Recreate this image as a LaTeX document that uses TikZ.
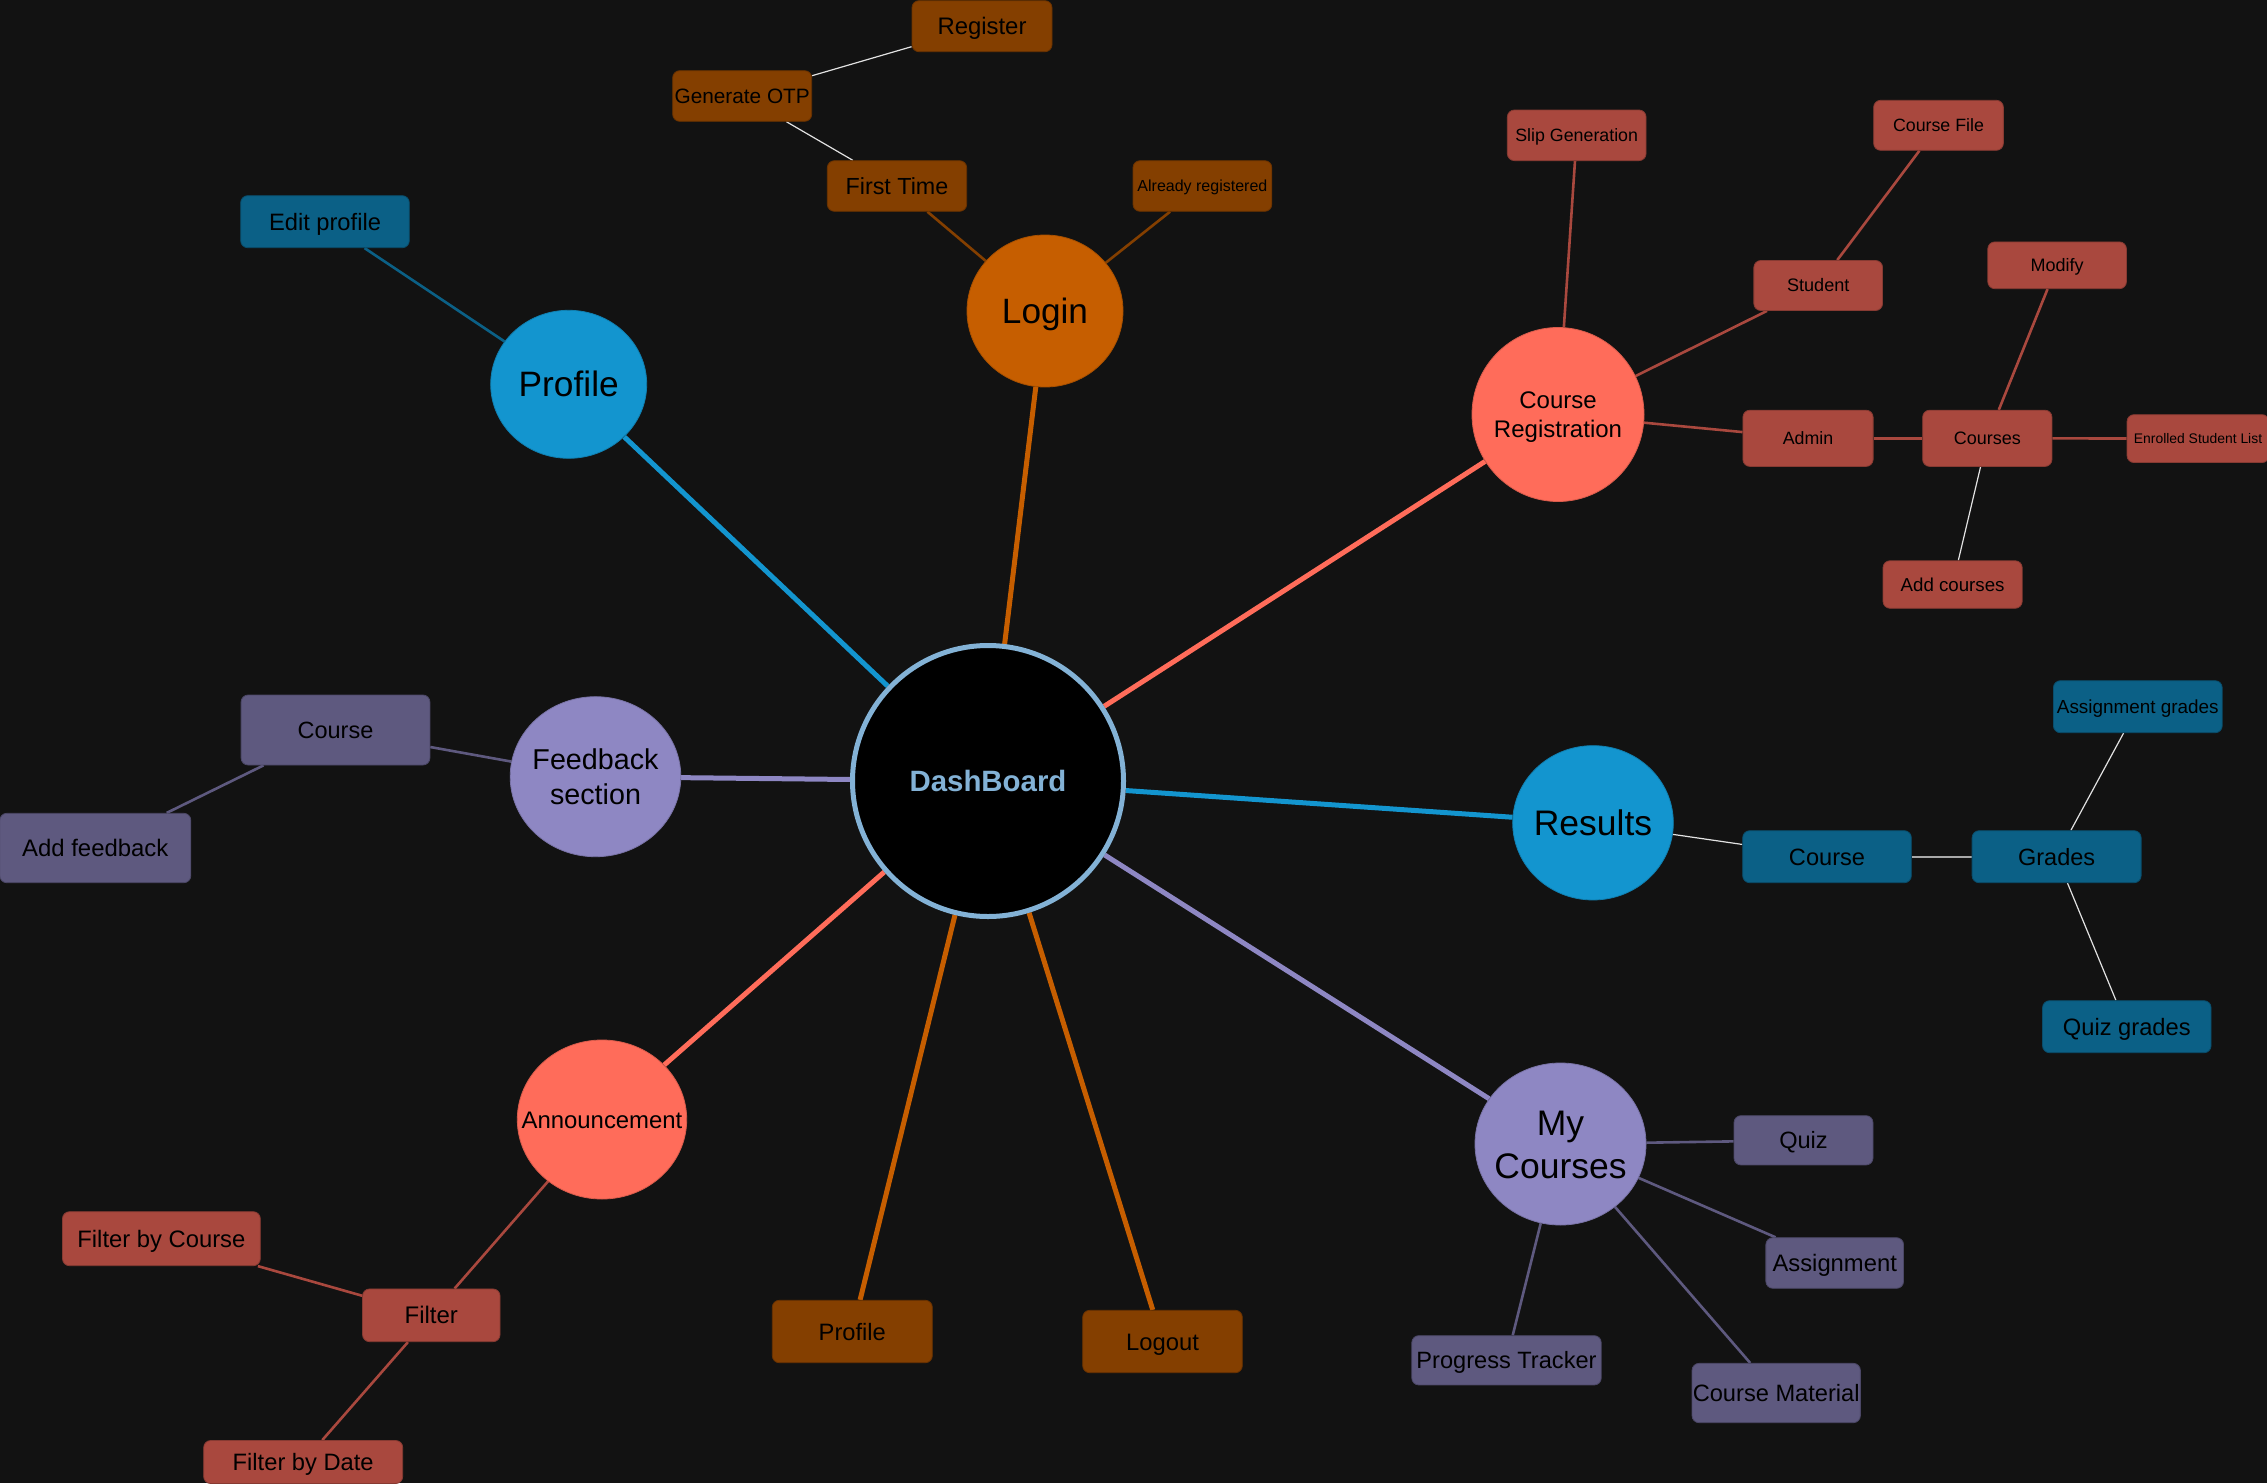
\documentclass[tikz,border=0pt]{standalone}
\usepackage{fontspec}
\setmainfont{Liberation Sans}
\usetikzlibrary{shapes.geometric}
\pgfdeclarelayer{background}
\pgfsetlayers{background,main}

\definecolor{bg}{HTML}{121212}
\definecolor{orgC}{HTML}{C65E00}
\definecolor{orgB}{HTML}{843F00}
\definecolor{redC}{HTML}{FF6C5A}
\definecolor{redB}{HTML}{A9483E}
\definecolor{bluC}{HTML}{1395CF}
\definecolor{bluB}{HTML}{0B6086}
\definecolor{purC}{HTML}{8E87C3}
\definecolor{purB}{HTML}{5E597F}
\definecolor{dashC}{HTML}{83B2D6}
\definecolor{hairC}{HTML}{E2E2E2}
\definecolor{greyC}{HTML}{A8A8A8}

% zero-width labels so the ellipse keeps its own size
\newcommand\zw[1]{\makebox[0pt]{#1}}
\newcommand\twolines[2]{\makebox[0pt]{\begin{tabular}[b]{@{}c@{}}#1\\#2\end{tabular}}}

\tikzset{
  fs/.code={\pgfmathsetmacro\capht{0.716*#1}%
    \edef\tmpopts{\noexpand\tikzset{font=\noexpand\fontsize{#1}{#1}\noexpand\selectfont,
      text height=\capht pt, text depth=0pt}}\tmpopts},
  fstwo/.code={\pgfmathsetmacro\capht{1.916*#1}\pgfmathsetmacro\bskip{1.2*#1}%
    \edef\tmpopts{\noexpand\tikzset{font=\noexpand\fontsize{#1}{\bskip}\noexpand\selectfont,
      text height=\capht pt, text depth=0pt}}\tmpopts},
  hub/.style={ellipse, inner sep=0pt, text=black, fill=#1, draw=#1!85!black, line width=0.8pt},
  leaf/.style={rectangle, rounded corners=7pt, inner sep=0pt, text=black, fill=#1,
    draw=#1!80!black, line width=0.8pt},
  spoke/.style={line width=5pt, draw=#1},
  twig/.style={line width=2.6pt, draw=#1},
  hair/.style={line width=1.2pt, draw=hairC},
}

\begin{document}
\begin{tikzpicture}[x=1pt,y=-1pt]
\useasboundingbox (0,0) rectangle (2267,1483);

% centre
\node[circle, inner sep=0pt, minimum size=271, fill=black, draw=dashC, line width=5pt,
  text=dashC, fs=29.4] (dash) at (988,781) {\zw{\bfseries DashBoard}};

% main topics
\node[hub=orgC, minimum width=156, minimum height=152, fs=35.2] (login) at (1045,311) {\zw{Login}};
\node[hub=bluC, minimum width=156, minimum height=148, fs=35.3] (profile) at (568.7,384.3) {\zw{Profile}};
\node[hub=redC, minimum width=172, minimum height=174, fstwo=24] (creg) at (1558,414.5) {\twolines{Course}{Registration}};
\node[hub=bluC, minimum width=160.6, minimum height=154.3, fs=35.5] (results) at (1593,822.8) {\zw{Results}};
\node[hub=purC, minimum width=171, minimum height=162, fstwo=35.5] (mycourses) at (1560.5,1144) {\twolines{My}{Courses}};
\node[hub=purC, minimum width=170.6, minimum height=160, fstwo=28.7] (feedback) at (595.5,776.7) {\twolines{Feedback}{section}};
\node[hub=redC, minimum width=169.4, minimum height=159, fs=23.9] (announce) at (602,1119.5) {\zw{Announcement}};

% login branch
\node[leaf=orgB, minimum width=140, minimum height=51, fs=23.9] (reg) at (982,26.2) {Register};
\node[leaf=orgB, minimum width=139, minimum height=50.6, fs=20.8] (otp) at (742.2,96) {Generate OTP};
\node[leaf=orgB, minimum width=139.3, minimum height=50.6, fs=23.3] (first) at (897,186) {First Time};
\node[leaf=orgB, minimum width=138.8, minimum height=50.6, fs=16] (already) at (1202.4,186) {Already registered};
\node[leaf=orgB, minimum width=160, minimum height=62.4, fs=23.7] (profb) at (852.3,1331.5) {Profile};
\node[leaf=orgB, minimum width=159.6, minimum height=62.4, fs=23.8] (logout) at (1162.5,1341.5) {Logout};

% course registration branch
\node[leaf=redB, minimum width=138.7, minimum height=50.6, fs=17.8] (slip) at (1576.7,135.3) {Slip Generation};
\node[leaf=redB, minimum width=129.7, minimum height=50, fs=17.8] (cfile) at (1938.5,125.3) {Course File};
\node[leaf=redB, minimum width=128.7, minimum height=50, fs=18.1] (student) at (1818.2,285.5) {Student};
\node[leaf=redB, minimum width=138.6, minimum height=46.8, fs=18] (modify) at (2057.1,265.3) {Modify};
\node[leaf=redB, minimum width=130.2, minimum height=56.2, fs=17.8] (admin) at (1808,438.3) {Admin};
\node[leaf=redB, minimum width=129.3, minimum height=56.2, fs=18] (courses) at (1987.3,438.3) {Courses};
\node[leaf=redB, minimum width=142, minimum height=47.9, fs=13.9] (enrolled) at (2198,438.6) {Enrolled Student List};
\node[leaf=redB, minimum width=139.2, minimum height=47.5, fs=18.7] (addc) at (1952.6,584.5) {Add courses};

% announcement branch
\node[leaf=redB, minimum width=137.5, minimum height=52.7, fs=24] (filter) at (431.3,1315.3) {Filter};
\node[leaf=redB, minimum width=197.8, minimum height=54, fs=23.8] (fbc) at (161.4,1238.7) {Filter by Course};
\node[leaf=redB, minimum width=199, minimum height=43, fs=23.7] (fbd) at (303.2,1462) {Filter by Date};

% profile and results branches
\node[leaf=bluB, minimum width=168.6, minimum height=52, fs=23.7] (edit) at (325,221.7) {Edit profile};
\node[leaf=bluB, minimum width=168.6, minimum height=52, fs=23.6] (rcourse) at (1827,856.7) {Course};
\node[leaf=bluB, minimum width=169, minimum height=52, fs=23.5] (grades) at (2056.6,856.7) {Grades};
\node[leaf=bluB, minimum width=168.8, minimum height=52, fs=18.9] (agrades) at (2137.8,706.7) {Assignment grades};
\node[leaf=bluB, minimum width=168.5, minimum height=52, fs=23.7] (qgrades) at (2126.8,1026.7) {Quiz grades};

% feedback and my courses branches
\node[leaf=purB, minimum width=188.8, minimum height=70, fs=23.5] (fcourse) at (335.5,730) {Course};
\node[leaf=purB, minimum width=191, minimum height=69.4, fs=23.9] (addfb) at (95.3,848) {Add feedback};
\node[leaf=purB, minimum width=139, minimum height=49.3, fs=23.6] (quiz) at (1803.5,1140.3) {Quiz};
\node[leaf=purB, minimum width=137.7, minimum height=50.6, fs=23.8] (assign) at (1834.7,1263) {Assignment};
\node[leaf=purB, minimum width=189.4, minimum height=49.3, fs=23.6] (prog) at (1506.5,1360.3) {Progress Tracker};
\node[leaf=purB, minimum width=168.3, minimum height=59.3, fs=23.65] (cmat) at (1776.2,1393) {Course Material};

\begin{pgfonlayer}{background}
  \fill[bg] (0,0) rectangle (2267,1483);
  % spokes from the centre
  \draw[spoke=bluC] (dash) -- (profile);
  \draw[spoke=orgC] (dash) -- (login);
  \draw[spoke=redC] (dash) -- (creg);
  \draw[spoke=bluC] (dash) -- (results);
  \draw[spoke=purC] (dash) -- (mycourses);
  \draw[spoke=orgC] (dash) -- (logout);
  \draw[spoke=orgC] (dash) -- (profb);
  \draw[spoke=redC] (dash) -- (announce);
  \draw[spoke=purC] (dash) -- (feedback);
  % sub-branches
  \draw[twig=orgB] (login) -- (first);
  \draw[twig=orgB] (login) -- (already);
  \draw[hair] (first) -- (otp);
  \draw[hair] (otp) -- (reg);
  \draw[twig=bluB] (profile) -- (edit);
  \draw[twig=redB] (creg) -- (slip);
  \draw[twig=redB] (creg) -- (student);
  \draw[twig=redB] (creg) -- (admin);
  \draw[twig=redB] (student) -- (cfile);
  \draw[twig=redB] (admin) -- (courses);
  \draw[twig=redB] (courses) -- (modify);
  \draw[twig=redB] (courses) -- (enrolled);
  \draw[hair] (courses) -- (addc);
  \draw[hair] (results) -- (rcourse);
  \draw[hair, draw=greyC, line width=1.8pt] (rcourse) -- (grades);
  \draw[hair] (grades) -- (agrades);
  \draw[hair] (grades) -- (qgrades);
  \draw[twig=purB] (feedback) -- (fcourse);
  \draw[twig=purB] (fcourse) -- (addfb);
  \draw[twig=redB] (announce) -- (filter);
  \draw[twig=redB] (filter) -- (fbc);
  \draw[twig=redB] (filter) -- (fbd);
  \draw[twig=purB] (mycourses) -- (quiz);
  \draw[twig=purB] (mycourses) -- (assign);
  \draw[twig=purB] (mycourses) -- (prog);
  \draw[twig=purB] (mycourses) -- (cmat);
\end{pgfonlayer}
\end{tikzpicture}
\end{document}
